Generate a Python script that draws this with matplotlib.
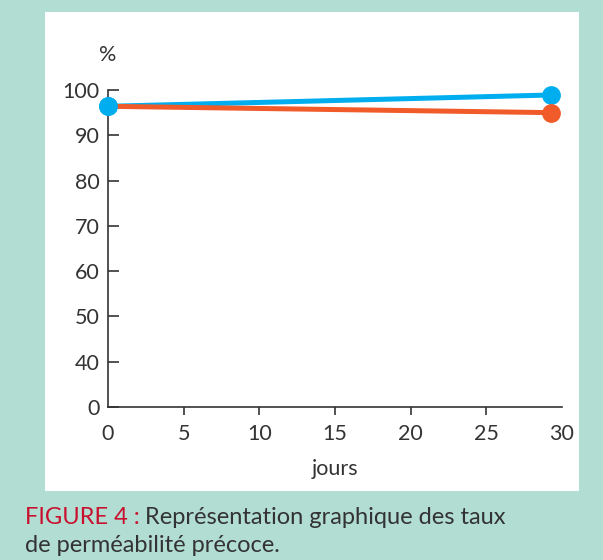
import matplotlib
matplotlib.use("Agg")
import matplotlib.pyplot as plt
from matplotlib.patches import Rectangle

# Data
days = [0, 29.3]
blue_vals = [96.4, 98.9]
orange_vals = [96.4, 95.0]
y_tick_vals = [0, 40, 50, 60, 70, 80, 90, 100]
x_tick_vals = [0, 5, 10, 15, 20, 25, 30]

def ymap(v):
    # broken axis: 0 then 40..100
    return v / 40.0 if v < 40 else (v - 40) / 10.0 + 1

BG = "#b2ddd3"
BLUE = "#00aeef"
ORANGE = "#f15a29"
DARK = "#333333"
RED = "#c8102e"

plt.rcParams['font.family'] = ['Lato', 'DejaVu Sans']

W, H = 603, 560
fig = plt.figure(figsize=(W / 100, H / 100), dpi=100)
fig.patch.set_facecolor(BG)
fig.patches.append(Rectangle((45 / W, (H - 491) / H), (579 - 45) / W, (491 - 12) / H,
                             transform=fig.transFigure, facecolor="white",
                             edgecolor="none", zorder=-10))

ax = fig.add_axes([108 / W, (H - 407) / H, (562 - 108) / W, (407 - 90) / H])
ax.set_zorder(5)
ax.patch.set_alpha(0)
ax.set_xlim(0, 30)
ax.set_ylim(0, 7)

MS = 12.5
ax.plot(days, [ymap(v) for v in blue_vals], color=BLUE, lw=3.6, marker='o',
        ms=MS, solid_capstyle='round', zorder=3, clip_on=False)
ax.plot(days, [ymap(v) for v in orange_vals], color=ORANGE, lw=3.6,
        solid_capstyle='round', zorder=4, clip_on=False)
ax.plot(days[-1:], [ymap(orange_vals[-1])], color=ORANGE, marker='o', ms=MS,
        zorder=4, clip_on=False)
ax.plot(days[:1], [ymap(blue_vals[0])], color=BLUE, marker='o', ms=MS,
        zorder=5, clip_on=False)

for s in ['top', 'right']:
    ax.spines[s].set_visible(False)
for s in ['left', 'bottom']:
    ax.spines[s].set_color(DARK)
    ax.spines[s].set_linewidth(1.2)

ax.set_yticks([ymap(v) for v in y_tick_vals])
ax.set_yticklabels([str(v) for v in y_tick_vals])
ax.set_xticks(x_tick_vals)
ax.set_xticklabels([str(v) for v in x_tick_vals])
ax.tick_params(axis='y', direction='in', length=8, width=1.2, color=DARK,
               labelsize=15.5, labelcolor=DARK, pad=6)
ax.tick_params(axis='x', direction='out', length=6, width=1.2, color=DARK,
               labelsize=15.5, labelcolor=DARK, pad=6)
xt = ax.xaxis.get_major_ticks()
xt[0].tick1line.set_visible(False)
xt[-1].tick1line.set_visible(False)
ax.set_xticks([30], minor=True)
ax.tick_params(axis='x', which='minor', direction='in', length=7, width=1.2, color=DARK)

ax.text(0, 1.08, "%", transform=ax.transAxes, fontsize=15.5, color=DARK,
        ha='center', va='bottom')
ax.set_xlabel("jours", fontsize=15.5, color=DARK, labelpad=11)

red = fig.text(25 / W, 1 - 517 / H, "FIGURE 4 :", color=RED, fontsize=17,
               va='center', ha='left')
fig.canvas.draw()
bb = red.get_window_extent()
fig.text((bb.x1 + 5) / W, 1 - 517 / H, "Représentation graphique des taux",
         color=DARK, fontsize=17, va='center', ha='left')
fig.text(25 / W, 1 - 545 / H, "de perméabilité précoce.", color=DARK,
         fontsize=17, va='center', ha='left')

fig.savefig("out.png", dpi=100, facecolor=BG)
